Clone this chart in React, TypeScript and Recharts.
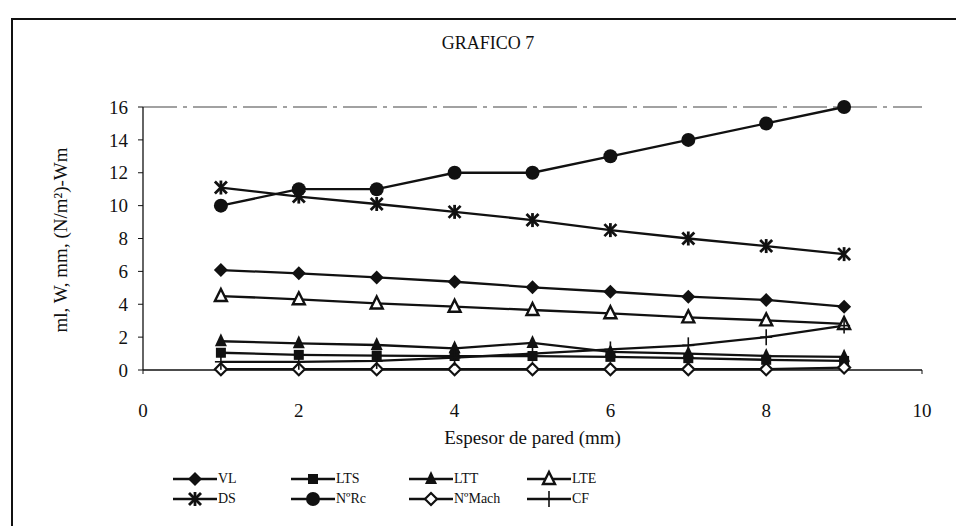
import React from 'react';
import { LineChart, Line, XAxis, YAxis, ReferenceLine, Legend, Label } from 'recharts';

const espesor = [1, 2, 3, 4, 5, 6, 7, 8, 9];
const VL = [6.08, 5.88, 5.63, 5.37, 5.03, 4.76, 4.46, 4.26, 3.85];
const LTS = [1.05, 0.92, 0.88, 0.85, 0.85, 0.8, 0.72, 0.62, 0.55];
const LTT = [1.75, 1.62, 1.52, 1.32, 1.65, 1.1, 1.0, 0.85, 0.8];
const LTE = [4.5, 4.3, 4.05, 3.85, 3.65, 3.45, 3.2, 3.02, 2.8];
const DS = [11.1, 10.55, 10.1, 9.62, 9.12, 8.51, 8.0, 7.54, 7.05];
const NRc = [10, 11, 11, 12, 12, 13, 14, 15, 16];
const NMach = [0.05, 0.05, 0.05, 0.05, 0.05, 0.05, 0.05, 0.05, 0.15];
const CF = [0.5, 0.5, 0.55, 0.75, 1.0, 1.25, 1.5, 2.0, 2.7];

const xTicks = [0, 2, 4, 6, 8, 10];
const yTicks = [0, 2, 4, 6, 8, 10, 12, 14, 16];

const seriesDefs = [
  { key: 'VL', name: 'VL', values: VL, shape: 'diamond' },
  { key: 'LTS', name: 'LTS', values: LTS, shape: 'square' },
  { key: 'LTT', name: 'LTT', values: LTT, shape: 'triangle' },
  { key: 'LTE', name: 'LTE', values: LTE, shape: 'openTriangle' },
  { key: 'DS', name: 'DS', values: DS, shape: 'star' },
  { key: 'NRc', name: 'NºRc', values: NRc, shape: 'circle' },
  { key: 'NMach', name: 'NºMach', values: NMach, shape: 'openDiamond' },
  { key: 'CF', name: 'CF', values: CF, shape: 'plus' },
];

const data = espesor.map((x, i) => {
  const row: any = { x };
  seriesDefs.forEach((s) => {
    row[s.key] = s.values[i];
  });
  return row;
});

const FONT = '"Liberation Serif", "Times New Roman", serif';
const INK = '#111';

function Marker({ shape, cx, cy }: { shape: string; cx: number; cy: number }) {
  switch (shape) {
    case 'diamond':
      return <polygon points={`${cx},${cy - 7} ${cx + 7},${cy} ${cx},${cy + 7} ${cx - 7},${cy}`} fill={INK} />;
    case 'square':
      return <rect x={cx - 5} y={cy - 5} width={10} height={10} fill={INK} />;
    case 'triangle':
      return <polygon points={`${cx},${cy - 8} ${cx + 6},${cy + 5} ${cx - 6},${cy + 5}`} fill={INK} />;
    case 'openTriangle':
      return (
        <polygon
          points={`${cx},${cy - 7} ${cx + 6},${cy + 5} ${cx - 6},${cy + 5}`}
          fill="#fff"
          stroke={INK}
          strokeWidth={2.4}
        />
      );
    case 'star':
      return (
        <g stroke={INK} strokeWidth={2.8}>
          <line x1={cx} y1={cy - 7} x2={cx} y2={cy + 7} />
          <line x1={cx - 6} y1={cy - 6} x2={cx + 6} y2={cy + 6} />
          <line x1={cx - 6} y1={cy + 6} x2={cx + 6} y2={cy - 6} />
        </g>
      );
    case 'circle':
      return <circle cx={cx} cy={cy} r={7} fill={INK} />;
    case 'openDiamond':
      return (
        <polygon
          points={`${cx},${cy - 6} ${cx + 6},${cy} ${cx},${cy + 6} ${cx - 6},${cy}`}
          fill="#fff"
          stroke={INK}
          strokeWidth={2.2}
        />
      );
    case 'plus':
      return (
        <g stroke={INK} strokeWidth={1.6}>
          <line x1={cx} y1={cy - 8} x2={cx} y2={cy + 8} />
          <line x1={cx - 6} y1={cy} x2={cx + 6} y2={cy} />
        </g>
      );
    default:
      return null;
  }
}

const makeDot = (shape: string, key: string) => (props: any) => {
  const { cx, cy, index } = props;
  if (cx == null || cy == null) return <g key={`${key}-${index}`} />;
  return (
    <g key={`${key}-${index}`}>
      <Marker shape={shape} cx={cx} cy={cy} />
    </g>
  );
};

const renderLegend = () => (
  <div
    style={{
      display: 'grid',
      gridTemplateColumns: 'repeat(4, 118px)',
      gridAutoRows: '20px',
      fontFamily: FONT,
      fontSize: 14,
      color: INK,
    }}
  >
    {seriesDefs.map((s) => (
      <div key={s.key} style={{ display: 'flex', alignItems: 'center', height: 20 }}>
        <svg width={44} height={20} style={{ display: 'block' }}>
          <line x1={0} y1={10} x2={44} y2={10} stroke={INK} strokeWidth={2.6} />
          <Marker shape={s.shape} cx={22} cy={10} />
        </svg>
        <span style={{ marginLeft: 1, lineHeight: '20px' }}>{s.name}</span>
      </div>
    ))}
  </div>
);

const YLabel = (props: any) => {
  const cx = 52;
  const cy = 232;
  return (
    <text
      x={cx}
      y={cy}
      transform={`rotate(-90 ${cx} ${cy})`}
      textAnchor="middle"
      dominantBaseline="central"
      fontFamily={FONT}
      fontSize={19}
      fill={INK}
    >
      ml, W, mm, (N/m²)-Wm
    </text>
  );
};

export default function App() {
  return (
    <div style={{ position: 'relative', width: 956, height: 518, overflow: 'hidden', background: '#fff' }}>
      <div
        style={{
          position: 'absolute',
          left: 3,
          top: 10,
          width: 1200,
          height: 1200,
          borderLeft: `2px solid ${INK}`,
          borderTop: `2px solid ${INK}`,
        }}
      />
      <div
        style={{
          position: 'absolute',
          left: 0,
          top: 25,
          width: 960,
          textAlign: 'center',
          fontFamily: FONT,
          fontSize: 18,
          lineHeight: '20px',
          color: INK,
        }}
      >
        GRAFICO 7
      </div>
      <LineChart
        width={956}
        height={518}
        data={data}
        margin={{ top: 99, right: 42, bottom: 116, left: 65 }}
        style={{ position: 'absolute', left: 0, top: 0 }}
      >
        <ReferenceLine y={16} stroke="#444" strokeWidth={1.2} strokeDasharray="34 6 4 6" ifOverflow="visible" />
        <XAxis
          dataKey="x"
          type="number"
          domain={[0, 10]}
          ticks={xTicks}
          interval={0}
          height={40}
          tickSize={4}
          tickMargin={30}
          stroke={INK}
          tick={{ fill: INK, fontFamily: FONT, fontSize: 19 }}
          tickLine={{ stroke: INK }}
          axisLine={{ stroke: INK, strokeWidth: 1.3 }}
        >
          <Label
            value="Espesor de pared (mm)"
            position="bottom"
            offset={21}
            style={{ fontFamily: FONT, fontSize: 19, fill: INK }}
          />
        </XAxis>
        <YAxis
          type="number"
          domain={[0, 16]}
          ticks={yTicks}
          interval={0}
          width={70}
          tickSize={5}
          tickMargin={10}
          stroke={INK}
          tick={{ fill: INK, fontFamily: FONT, fontSize: 19 }}
          tickLine={{ stroke: INK }}
          axisLine={{ stroke: INK, strokeWidth: 1.3 }}
        >
          <Label content={<YLabel />} />
        </YAxis>
        <Legend
          layout="horizontal"
          verticalAlign="middle"
          align="center"
          content={renderLegend}
          wrapperStyle={{ left: 165, top: 461, width: 480, height: 40 }}
        />
        {seriesDefs.map((s) => (
          <Line
            key={s.key}
            type="linear"
            dataKey={s.key}
            name={s.name}
            stroke={INK}
            strokeWidth={2.3}
            dot={makeDot(s.shape, s.key)}
            activeDot={false}
            isAnimationActive={false}
          />
        ))}
      </LineChart>
    </div>
  );
}
